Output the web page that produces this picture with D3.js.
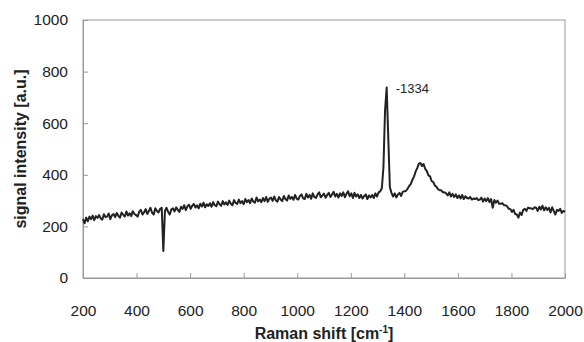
<!DOCTYPE html>
<html lang="en">
<head>
  <meta charset="UTF-8">
  <title>Raman spectrum</title>
  <script src="https://d3js.org/d3.v7.min.js"></script>
  <style>
    body { margin: 0; background: #fff; font-family: 'Liberation Sans', Arial, sans-serif; }
    .tick text { font-size: 15.5px; fill: #222; }
    .axis-title { font-size: 16px; font-weight: bold; fill: #222; }
  </style>
</head>
<body>
  <svg width="584" height="342"></svg>

  <script>
    // Raman shift grid, cm-1 (one reading every 6 cm-1)
    const shift = d3.range(200, 2001, 6);

    // signal intensity, a.u.
    const intensity = [
      228, 212, 234, 220, 238, 228, 242, 224, 240, 233,
      244, 231, 226, 247, 236, 238, 250, 228, 243, 248,
      236, 252, 241, 234, 254, 245, 238, 258, 242, 251,
      240, 259, 248, 244, 238, 257, 264, 246, 254, 267,
      248, 260, 272, 253, 246, 270, 260, 254, 268, 272,
      105, 260, 272, 256, 246, 266, 270, 258, 274, 264,
      256, 276, 268, 282, 263, 278, 284, 268, 280, 287,
      273, 282, 270, 288, 277, 292, 274, 286, 279, 290,
      276, 294, 282, 278, 296, 286, 280, 298, 285, 293,
      283, 300, 288, 282, 302, 291, 287, 304, 290, 298,
      286, 306, 294, 302, 290, 308, 296, 292, 312, 297,
      304, 294, 310, 298, 314, 295, 307, 312, 299, 316,
      301, 296, 314, 304, 298, 318, 306, 300, 320, 307,
      314, 303, 322, 308, 304, 318, 324, 309, 306, 326,
      312, 322, 307, 328, 314, 310, 324, 332, 313, 320,
      327, 311, 322, 330, 314, 324, 334, 316, 326, 312,
      328, 318, 332, 313, 326, 336, 317, 328, 310, 330,
      316, 324, 310, 322, 308, 318, 324, 306, 320, 312,
      322, 310, 328, 316, 332, 336, 348, 430, 650, 738,
      545, 352, 330, 316, 328, 312, 324, 330, 318, 334,
      336, 337, 346, 357, 364, 380, 393, 412, 426, 442,
      446, 434, 442, 423, 414, 398, 394, 376, 372, 358,
      354, 344, 340, 340, 332, 332, 328, 320, 332, 316,
      326, 314, 324, 310, 320, 308, 322, 306, 317, 310,
      308, 314, 304, 308, 306, 310, 302, 304, 312, 296,
      308, 298, 310, 294, 306, 272, 302, 292, 300, 288,
      288, 290, 282, 282, 278, 268, 267, 256, 264, 248,
      246, 234, 254, 244, 264, 268, 260, 273, 270, 270,
      267, 274, 272, 260, 276, 266, 280, 262, 274, 264,
      272, 254, 274, 260, 246, 264, 260, 268, 252, 260,
      256
    ];

    const xTicks = [200, 400, 600, 800, 1000, 1200, 1400, 1600, 1800, 2000];
    const yTicks = [0, 200, 400, 600, 800, 1000];
    const peakLabel = { shift: 1334, value: 740, text: "-1334" };

    const svg = d3.select("svg");
    const margin = { top: 20, right: 19, bottom: 64, left: 83 };
    const width = 584 - margin.left - margin.right,
      height = 342 - margin.top - margin.bottom;

    const x = d3.scaleLinear().domain([200, 2000]).range([0, width]);
    const y = d3.scaleLinear().domain([0, 1000]).range([height, 0]);

    const g = svg.append("g").attr("transform", `translate(${margin.left},${margin.top})`);

    // frame
    g.append("rect")
      .attr("x", 0).attr("y", 0)
      .attr("width", width).attr("height", height)
      .attr("fill", "none")
      .attr("stroke", "#999")
      .attr("stroke-width", 1);

    // axes, ticks pointing inwards
    const xAxis = g.append("g")
      .attr("transform", `translate(0,${height})`)
      .call(d3.axisBottom(x).tickValues(xTicks).tickFormat(d3.format("d"))
        .tickSizeInner(-5).tickSizeOuter(0).tickPadding(27));
    const yAxis = g.append("g")
      .call(d3.axisLeft(y).tickValues(yTicks).tickFormat(d3.format("d"))
        .tickSizeInner(-5).tickSizeOuter(0).tickPadding(15));

    [xAxis, yAxis].forEach(a => {
      a.select(".domain").attr("stroke", "#999");
      a.selectAll(".tick line").attr("stroke", "#999");
      a.selectAll(".tick text").attr("font-family", "'Liberation Sans', Arial, sans-serif");
    });

    // spectrum
    const line = d3.line()
      .x((d, i) => x(shift[i]))
      .y(d => y(d));

    g.append("path")
      .datum(intensity)
      .attr("fill", "none")
      .attr("stroke", "#222")
      .attr("stroke-width", 2)
      .attr("stroke-linejoin", "round")
      .attr("d", line);

    // peak annotation
    g.append("text")
      .attr("x", x(peakLabel.shift) + 9)
      .attr("y", y(peakLabel.value) + 6)
      .attr("font-size", 13)
      .attr("fill", "#222")
      .text(peakLabel.text);

    // axis titles
    svg.append("text")
      .attr("class", "axis-title")
      .attr("text-anchor", "middle")
      .attr("transform", `translate(26,${margin.top + height / 2}) rotate(-90)`)
      .text("signal intensity [a.u.]");

    const xt = svg.append("text")
      .attr("class", "axis-title")
      .attr("text-anchor", "middle")
      .attr("x", margin.left + width / 2)
      .attr("y", 339);
    xt.append("tspan").text("Raman shift [cm");
    xt.append("tspan").attr("dy", -6).attr("font-size", 10).text("-1");
    xt.append("tspan").attr("dy", 6).text("]");
  </script>
</body>
</html>
